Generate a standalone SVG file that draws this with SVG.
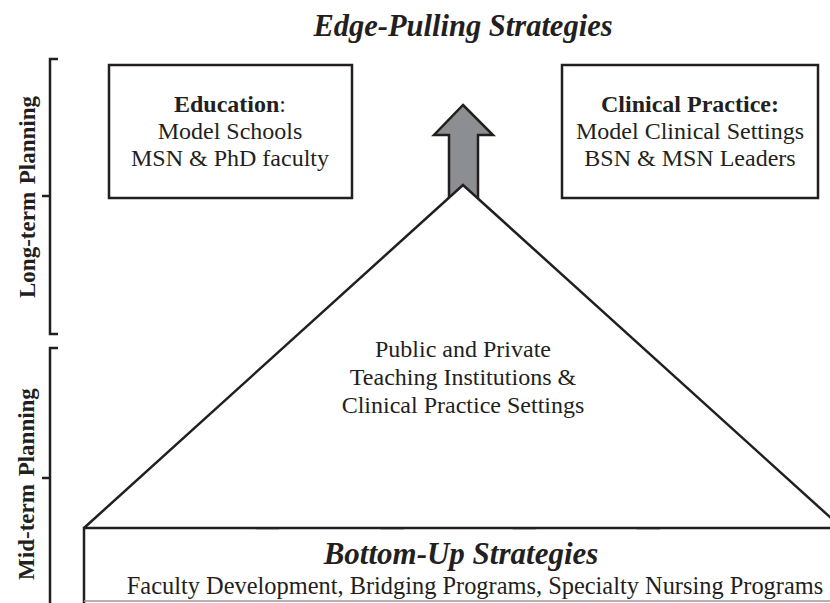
<svg xmlns="http://www.w3.org/2000/svg" width="830" height="603" viewBox="0 0 830 603">
  <style>
    .ln { fill: none; stroke: #231f20; stroke-width: 2.5; }
    .box { fill: #ffffff; stroke: #231f20; stroke-width: 2.5; }
    .arw { fill: #8d8e91; stroke: #231f20; stroke-width: 2.5; stroke-linejoin: miter; }
    .t { font-family: "Liberation Serif", "Times New Roman", serif; fill: #231f20; text-anchor: middle; }
    .body { font-size: 24px; }
    .b { font-weight: bold; }
    .head { font-size: 30.5px; font-weight: bold; font-style: italic; }
    .side { font-size: 23px; font-weight: bold; word-spacing: 2px; }
  </style>

  <!-- title -->
  <text class="t head" x="463" y="36">Edge-Pulling Strategies</text>

  <!-- planning horizon brackets -->
  <g id="long-term">
    <path class="ln" d="M58,59 H50 V334 H58 M50,196 H42"/>
    <text class="t side" transform="translate(35,197) rotate(-90)" x="0" y="0">Long-term Planning</text>
  </g>
  <g id="mid-term">
    <path class="ln" d="M58,348 H50 V610 M50,478 H42"/>
    <text class="t side" transform="translate(34,484) rotate(-90)" x="0" y="0">Mid-term Planning</text>
  </g>

  <!-- edge-pulling goals -->
  <g id="education">
    <rect class="box" x="109" y="65" width="243" height="133"/>
    <text class="t body" x="230" y="112"><tspan class="b">Education</tspan>:</text>
    <text class="t body" x="230" y="139">Model Schools</text>
    <text class="t body" x="230" y="166">MSN &amp; PhD faculty</text>
  </g>
  <g id="clinical-practice">
    <rect class="box" x="562" y="65" width="256" height="133"/>
    <text class="t body" x="690" y="112"><tspan class="b">Clinical Practice:</tspan></text>
    <text class="t body" x="690" y="139">Model Clinical Settings</text>
    <text class="t body" x="690" y="166">BSN &amp; MSN Leaders</text>
  </g>

  <!-- arrows pushing upward -->
  <g id="connectors">
    <path class="arw" d="M463,105 L493,135 H478 V205 H449 V135 H434 Z"/>
    <path class="arw" d="M267,477 L289,498 H278 V528 H257 V498 H245 Z"/>
    <path class="arw" d="M392,477 L414,498 H403 V528 H382 V498 H370 Z"/>
    <path class="arw" d="M524,477 L546,498 H535 V528 H514 V498 H502 Z"/>
    <path class="arw" d="M648,477 L670,498 H659 V528 H638 V498 H626 Z"/>
  </g>

  <!-- teaching institutions and clinical settings -->
  <g id="institutions">
    <path class="box" d="M84,528 L463,185 L842,528"/>
    <text class="t body" x="463" y="357">Public and Private</text>
    <text class="t body" x="463" y="385">Teaching Institutions &amp;</text>
    <text class="t body" x="463" y="413">Clinical Practice Settings</text>
  </g>

  <!-- bottom-up strategies base -->
  <g id="bottom-up">
    <path class="ln" d="M84,610 V528 H840"/>
    <path d="M84,601 H840" fill="none" stroke="#9a9a9a" stroke-width="1.5"/>
    <text class="t head" x="461" y="564" style="font-size:31px">Bottom-Up Strategies</text>
    <text class="t body" x="475" y="594" style="font-size:24.4px">Faculty Development, Bridging Programs, Specialty Nursing Programs</text>
  </g>
</svg>
